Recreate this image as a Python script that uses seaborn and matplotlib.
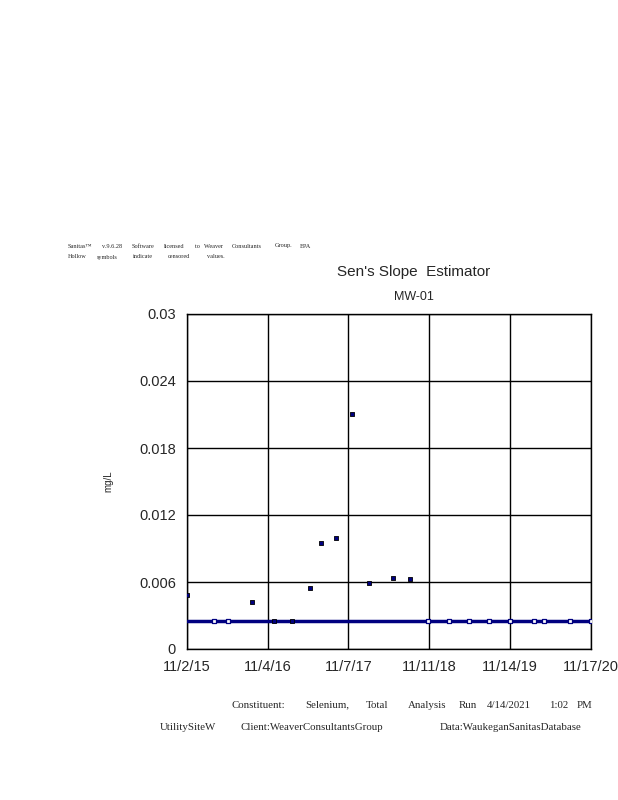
import matplotlib
matplotlib.use("Agg")
import matplotlib.pyplot as plt
import seaborn as sns
import pandas as pd

# sample dates and Se results (mg/L)
dates = ["2015-11-02", "2016-03-04", "2016-05-07", "2016-08-24", "2016-12-03",
         "2017-02-23", "2017-05-17", "2017-07-06", "2017-09-12", "2017-11-24",
         "2018-02-10", "2018-05-30", "2018-08-16", "2018-11-06", "2019-02-09",
         "2019-05-11", "2019-08-10", "2019-11-14", "2020-03-02", "2020-04-17",
         "2020-08-13", "2020-11-17"]
values = [0.0048, 0.0025, 0.0025, 0.0042, 0.0025,
          0.0025, 0.0055, 0.0095, 0.0099, 0.021,
          0.0059, 0.0064, 0.0063, 0.0025, 0.0025,
          0.0025, 0.0025, 0.0025, 0.0025, 0.0025,
          0.0025, 0.0025]
censored = [False, True, True, False, False,
            False, False, False, False, False,
            False, False, False, True, True,
            True, True, True, True, True,
            True, True]

sen_x = ["2015-11-02", "2020-11-17"]
sen_y = [0.0025, 0.0025]

tick_dates = ["2015-11-02", "2016-11-04", "2017-11-07", "2018-11-11", "2019-11-14", "2020-11-17"]
tick_labels = ["11/2/15", "11/4/16", "11/7/17", "11/11/18", "11/14/19", "11/17/20"]
y_ticks = [0, 0.006, 0.012, 0.018, 0.024, 0.03]
y_labels = ["0", "0.006", "0.012", "0.018", "0.024", "0.03"]

df = pd.DataFrame({"date": pd.to_datetime(dates), "value": values, "censored": censored})
sen = pd.DataFrame({"date": pd.to_datetime(sen_x), "value": sen_y})

sns.set_style("white")
plt.rcParams['font.family'] = ['Liberation Sans', 'DejaVu Sans']

fig = plt.figure(figsize=(6.18, 8), dpi=100)
ax = fig.add_axes([187/618, 151/800, 404/618, 335/800])

navy = "#000080"
sns.lineplot(data=sen, x="date", y="value", ax=ax, color=navy, linewidth=2.5, zorder=3)
sns.scatterplot(data=df[~df.censored], x="date", y="value", ax=ax, marker="s", s=10,
                color=navy, edgecolor="black", linewidth=0.6, zorder=4)
sns.scatterplot(data=df[df.censored], x="date", y="value", ax=ax, marker="s", s=12,
                color="white", edgecolor=navy, linewidth=0.9, zorder=4)

ax.set_xlim(pd.Timestamp(sen_x[0]), pd.Timestamp(sen_x[1]))
ax.set_ylim(0, 0.03)
ax.set_xticks(pd.to_datetime(tick_dates))
ax.set_xticklabels(tick_labels, fontsize=10.5)
ax.set_yticks(y_ticks)
ax.set_yticklabels(y_labels, fontsize=10.5)
ax.tick_params(axis="both", direction="out", length=5, width=1, color="black", pad=3)
ax.grid(True, color="black", linewidth=1)
for s in ax.spines.values():
    s.set_color("black")
    s.set_linewidth(1)
ax.set_xlabel("")
ax.set_ylabel("")

fig.text(108/618, 1 - 481/800, "mg/L", rotation=90, fontsize=7, ha="center", va="center")
fig.text(414/618, 1 - 272/800, "Sen's Slope  Estimator", fontsize=11, ha="center", va="center")
fig.text(414/618, 1 - 297/800, "MW-01", fontsize=9, ha="center", va="center")

# header words
serif = ['Liberation Serif', 'DejaVu Serif']
head1 = [("Sanitas\u2122", 68), ("v.9.6.28", 102), ("Software", 132), ("licensed", 164), ("to", 195),
         ("Weaver", 204), ("Consultants", 232), ("Group.", 275), ("EPA", 300)]
head2 = [("Hollow", 68), ("symbols", 97), ("indicate", 133), ("censored", 168), ("values.", 207)]
for w, x in head1:
    fig.text(x/618, 1 - 246/800, w, fontsize=4.5, family=serif, va="center")
for w, x in head2:
    fig.text(x/618, 1 - 257/800, w, fontsize=4.5, family=serif, va="center")

foot1 = [("Constituent:", 232), ("Selenium,", 305), ("Total", 366), ("Analysis", 408), ("Run", 459),
         ("4/14/2021", 487), ("1:02", 549), ("PM", 577)]
foot2 = [("UtilitySiteW", 160), ("Client:WeaverConsultantsGroup", 241), ("Data:WaukeganSanitasDatabase", 440)]
for w, x in foot1:
    fig.text(x/618, 1 - 705/800, w, fontsize=7.8, family=serif, va="center")
for w, x in foot2:
    fig.text(x/618, 1 - 727/800, w, fontsize=7.8, family=serif, va="center")

fig.savefig("out.png", dpi=100)
